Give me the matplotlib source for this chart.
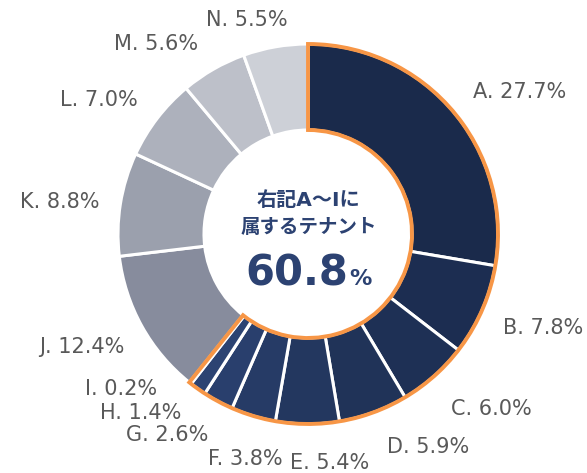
import matplotlib
matplotlib.use("Agg")
import matplotlib.pyplot as plt
from matplotlib.patches import Wedge
import numpy as np

# data
categories = ["A", "B", "C", "D", "E", "F", "G", "H", "I", "J", "K", "L", "M", "N"]
shares = [27.7, 7.8, 6.0, 5.9, 5.4, 3.8, 2.6, 1.4, 0.2, 12.4, 8.8, 7.0, 5.6, 5.5]
group_total = 60.8          # A~I
group_size = 9              # first nine slices are highlighted

colors = ["#1a2a4b", "#1c2d51", "#1e3055", "#203358", "#23375f", "#263b66",
          "#293f6d", "#2c4372", "#45527c",
          "#878c9d", "#9ba0ad", "#adb1bc", "#bdc0c9", "#cdd0d7"]

# label anchors in image pixels (x, y from top) and alignment
label_pos = [(473, 92, "left"), (503, 328, "left"), (451, 409, "left"),
             (387, 447, "left"), (330, 463, "center"), (283, 459, "right"),
             (208, 435, "right"), (181, 413, "right"), (157, 389, "right"),
             (125, 347, "right"), (100, 202, "right"), (138, 100, "right"),
             (198, 44, "right"), (288, 20, "right")]

W, H = 587, 473
cx, cy = 308, H - 234
R, ring = 190, 86

fig = plt.figure(figsize=(W / 100, H / 100), dpi=100)
ax = fig.add_axes([0, 0, 1, 1])

wedges, _ = ax.pie(shares, colors=colors, startangle=90, counterclock=False,
                   radius=R, center=(cx, cy), frame=True,
                   wedgeprops=dict(width=ring, edgecolor="white", linewidth=2.2))
ax.set_xlim(0, W)
ax.set_ylim(0, H)
ax.set_aspect("equal")
ax.axis("off")

# orange outline around A~I
t1 = wedges[group_size - 1].theta1
t2 = wedges[0].theta2
ax.add_patch(Wedge((cx, cy), R, t1, t2, width=ring, facecolor="none",
                   edgecolor="#f79646", linewidth=2.8, zorder=5))

for cat, val, (lx, ly, ha) in zip(categories, shares, label_pos):
    ax.text(lx, H - ly, f"{cat}. {val:.1f}%", ha=ha, va="center",
            fontsize=15, color="#595959", family="DejaVu Sans")

navy = "#2c4272"
ax.text(cx, H - 201, "右記A～Iに", ha="center", va="center", fontsize=14.5,
        fontweight="bold", color=navy, family=["DejaVu Sans", "Noto Sans CJK JP"])
ax.text(cx + 1, H - 228, "属するテナント", ha="center", va="center", fontsize=14,
        fontweight="bold", color=navy, family=["Noto Sans CJK JP", "DejaVu Sans"])
ax.text(348, H - 285, f"{group_total:.1f}", ha="right", va="baseline",
        fontsize=30, fontweight="bold", color=navy, family="DejaVu Sans")
ax.text(349, H - 285, "%", ha="left", va="baseline",
        fontsize=16, fontweight="bold", color=navy, family="DejaVu Sans")

fig.savefig("out.png", dpi=100)
